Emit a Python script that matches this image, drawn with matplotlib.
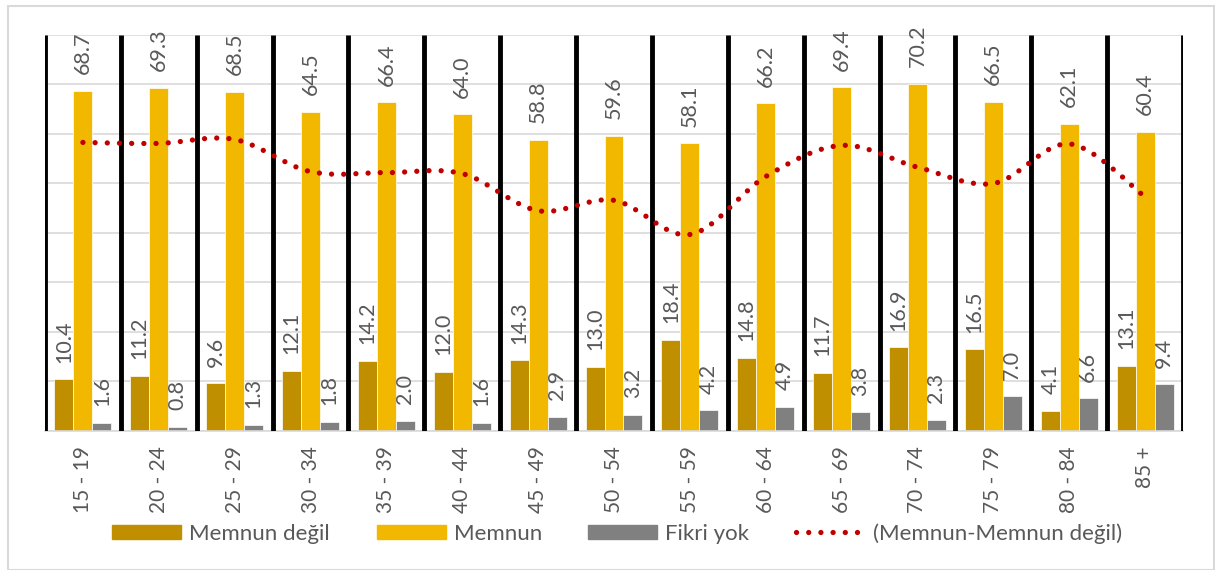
import numpy as np
import matplotlib.pyplot as plt
from matplotlib.path import Path
from matplotlib.patches import PathPatch, Rectangle
from matplotlib.lines import Line2D

plt.rcParams['font.family'] = ['Lato', 'DejaVu Sans']

yas = ['15 - 19', '20 - 24', '25 - 29', '30 - 34', '35 - 39', '40 - 44', '45 - 49',
       '50 - 54', '55 - 59', '60 - 64', '65 - 69', '70 - 74', '75 - 79', '80 - 84', '85 +']
memnun_degil = [10.4, 11.2, 9.6, 12.1, 14.2, 12.0, 14.3, 13.0, 18.4, 14.8, 11.7, 16.9, 16.5, 4.1, 13.1]
memnun = [68.7, 69.3, 68.5, 64.5, 66.4, 64.0, 58.8, 59.6, 58.1, 66.2, 69.4, 70.2, 66.5, 62.1, 60.4]
fikri_yok = [1.6, 0.8, 1.3, 1.8, 2.0, 1.6, 2.9, 3.2, 4.2, 4.9, 3.8, 2.3, 7.0, 6.6, 9.4]
fark = np.array(memnun) - np.array(memnun_degil)

c_degil = '#BF8F00'
c_memnun = '#F2B800'
c_fikri = '#808080'
c_line = '#C00000'
c_text = '#595959'

fig = plt.figure(figsize=(12.15, 5.7), dpi=100)
ax = fig.add_axes([0.037, 0.2439, 0.9367, 0.6947])
x = np.arange(len(yas))
w = 0.25

seriler = [(memnun_degil, -w, c_degil), (memnun, 0, c_memnun), (fikri_yok, w, c_fikri)]
for vals, off, col in seriler:
    bars = ax.bar(x + off, vals, w, color=col, edgecolor='white', linewidth=0.5, zorder=2)
    for b, v in zip(bars, vals):
        ax.annotate(f'{v:.1f}', (b.get_x() + b.get_width() / 2, v), xytext=(0, 12),
                    textcoords='offset points', rotation=90, ha='center', va='bottom',
                    fontsize=15.5, color=c_text)

# smoothed line (bezier, like excel)
pts = np.column_stack([x, fark])
ext = np.vstack([pts[0], pts, pts[-1]])
verts = [pts[0]]
codes = [Path.MOVETO]
for i in range(len(pts) - 1):
    p0, p1, p2, p3 = ext[i], ext[i + 1], ext[i + 2], ext[i + 3]
    verts += [p1 + (p2 - p0) / 6, p2 - (p3 - p1) / 6, p2]
    codes += [Path.CURVE4] * 3
patch = PathPatch(Path(verts, codes), fill=False, edgecolor=c_line, linewidth=3.8,
                  linestyle=(0, (0.01, 2.3)), capstyle='round', zorder=4)
ax.add_patch(patch)

# group separators
ax.vlines(np.arange(len(yas) + 1) - 0.5, 0, 80, color='black', linewidth=3.5, zorder=3)

ax.set_xlim(-0.5, len(yas) - 0.5)
ax.set_ylim(0, 80)
ax.set_yticks(np.arange(0, 81, 10))
ax.set_yticklabels([])
ax.tick_params(axis='y', length=0)
ax.grid(axis='y', color='#d9d9d9', linewidth=1.2, zorder=0)
ax.set_axisbelow(True)
ax.set_xticks(x)
ax.set_xticklabels(yas, rotation=90, fontsize=15, color=c_text, va='top')
ax.tick_params(axis='x', length=0, pad=11)
for s in ['top', 'right', 'left']:
    ax.spines[s].set_visible(False)
ax.spines['bottom'].set_color('#d9d9d9')
ax.spines['bottom'].set_linewidth(1.2)

handles = [Rectangle((0, 0), 1, 1, color=c_degil), Rectangle((0, 0), 1, 1, color=c_memnun),
           Rectangle((0, 0), 1, 1, color=c_fikri),
           Line2D([], [], color=c_line, linewidth=3.8, linestyle=(0, (0.01, 2.3)),
                  dash_capstyle='round')]
labels = ['Memnun değil', 'Memnun', 'Fikri yok', '(Memnun-Memnun değil)']
fig.legend(handles, labels, loc='center', bbox_to_anchor=(0.508, 0.064), ncol=4,
           frameon=False, fontsize=16, labelcolor=c_text, handlelength=3.1,
           handleheight=0.64, handletextpad=0.36, columnspacing=2.1)

fig.patches.append(Rectangle((8 / 1215, 0), 1 - 9 / 1215, 1 - 6 / 570, transform=fig.transFigure,
                             fill=False, edgecolor='#d9d9d9', linewidth=1.5))

fig.savefig('out.png', dpi=100)
